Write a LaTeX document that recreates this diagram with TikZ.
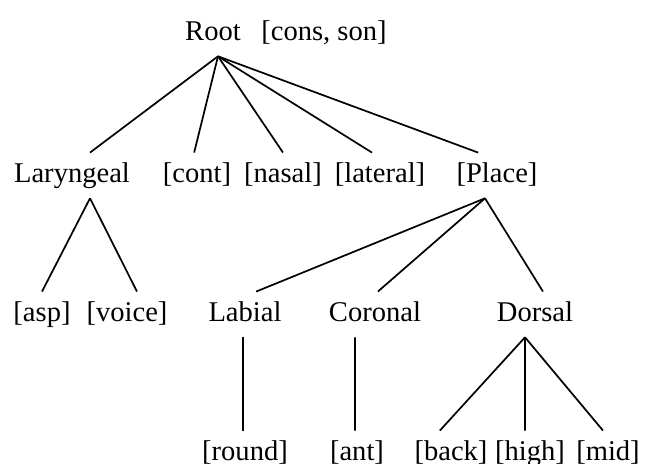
\documentclass[tikz,border=0pt]{standalone}
\usepackage{fontspec}
\setmainfont{Liberation Serif}

\begin{document}
\begin{tikzpicture}[x=0.35pt, y=-0.35pt, line width=0.6pt,
		feat/.style={anchor=base, inner xsep=0pt, inner ysep=3.2pt, text height=6.8pt, text depth=2.2pt}]
			\useasboundingbox (0, 0) rectangle (648, 463);
			% root and its features
			\draw (213, 40) node [feat] (root) {Root};
			\draw (324, 40) node [feat] (rootf) {[cons, son]};
			% second row
			\draw (72, 182) node [feat] (lar) {Laryngeal};
			\draw (197, 182) node [feat] (cont) {[cont]};
			\draw (283, 182) node [feat] (nas) {[nasal]};
			\draw (380, 182) node [feat] (lat) {[lateral]};
			\draw (497, 182) node [feat] (place) {[Place]};
			% third row
			\draw (42, 321) node [feat] (asp) {[asp]};
			\draw (127, 321) node [feat] (voice) {[voice]};
			\draw (245, 321) node [feat] (lab) {Labial};
			\draw (375, 321) node [feat] (cor) {Coronal};
			\draw (535, 321) node [feat] (dor) {Dorsal};
			% bottom row
			\draw (245, 460) node [feat] (round) {[round]};
			\draw (357, 460) node [feat] (ant) {[ant]};
			\draw (451, 460) node [feat] (back) {[back]};
			\draw (530, 460) node [feat] (high) {[high]};
			\draw (608, 460) node [feat] (mid) {[mid]};
			% branches
			\path ([xshift=1.75pt]root.south) edge ([xshift=6.3pt]lar.north);
			\path ([xshift=1.75pt]root.south) edge ([xshift=-1pt]cont.north);
			\path ([xshift=1.75pt]root.south) edge (nas.north);
			\path ([xshift=1.75pt]root.south) edge ([xshift=-2.8pt]lat.north);
			\path ([xshift=1.75pt]root.south) edge ([xshift=-6.6pt]place.north);
			\path ([xshift=6.3pt]lar.south) edge (asp.north);
			\path ([xshift=6.3pt]lar.south) edge ([xshift=3.5pt]voice.north);
			\path ([xshift=-4.2pt]place.south) edge ([xshift=3.9pt]lab.north);
			\path ([xshift=-4.2pt]place.south) edge ([xshift=1pt]cor.north);
			\path ([xshift=-4.2pt]place.south) edge ([xshift=2.8pt]dor.north);
			\path ([xshift=-0.7pt]lab.south) edge ([xshift=-0.7pt]round.north);
			\path ([xshift=-7pt]cor.south) edge ([xshift=-0.7pt]ant.north);
			\path ([xshift=-3.5pt]dor.south) edge ([xshift=-3.9pt]back.north);
			\path ([xshift=-3.5pt]dor.south) edge ([xshift=-1.75pt]high.north);
			\path ([xshift=-3.5pt]dor.south) edge ([xshift=-1.75pt]mid.north);
		\end{tikzpicture}
\end{document}
